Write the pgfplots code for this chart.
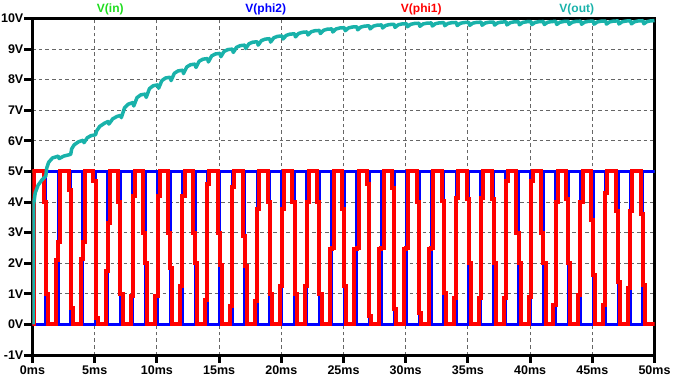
\documentclass[border=0pt]{standalone}
\usepackage{fontspec}
\setmainfont{Liberation Sans}
\usepackage{pgfplots}
\pgfplotsset{compat=1.18}
\usetikzlibrary{calc}
\definecolor{vin}{RGB}{30,220,30}
\definecolor{vphitwo}{RGB}{0,0,255}
\definecolor{vphione}{RGB}{255,0,0}
\definecolor{vout}{RGB}{25,178,170}
\begin{document}
\begin{tikzpicture}
\begin{axis}[
  name=ax,
  scale only axis, width=622pt, height=336.5pt,
  xmin=0, xmax=50, ymin=-1, ymax=10,
  xtick={0,5,10,15,20,25,30,35,40,45,50},
  xticklabels={0ms,5ms,10ms,15ms,20ms,25ms,30ms,35ms,40ms,45ms,50ms},
  ytick={-1,0,1,2,3,4,5,6,7,8,9,10},
  yticklabels={-1V,0V,1V,2V,3V,4V,5V,6V,7V,8V,9V,10V},
  axis line style={line width=3pt, black},
  tick style={line width=3pt, black},
  major tick length=8pt,
  tick align=outside,
  tick pos=left,
  grid=major,
  major grid style={line width=1pt, dash pattern=on 3.5pt off 3pt, color=black!60},
  tick label style={font=\bfseries\fontsize{12.5}{14}\selectfont},
  yticklabel style={inner sep=1pt},
  xticklabel style={inner sep=3pt},
]
% V(in)
\addplot[vin, line width=3pt] coordinates {(0,5) (50,5)};
% V(phi2)
\addplot[vphitwo, line width=3pt, line join=miter] coordinates {
(0,0) (1.07,0) (1.07,5) (2.05,5) (2.05,0) (3.07,0) (3.07,5) (4.05,5) (4.05,0)
(5.07,0) (5.07,5) (6.05,5) (6.05,0) (7.07,0) (7.07,5) (8.05,5) (8.05,0)
(9.07,0) (9.07,5) (10.05,5) (10.05,0) (11.07,0) (11.07,5) (12.05,5) (12.05,0)
(13.07,0) (13.07,5) (14.05,5) (14.05,0) (15.07,0) (15.07,5) (16.05,5) (16.05,0)
(17.07,0) (17.07,5) (18.05,5) (18.05,0) (19.07,0) (19.07,5) (20.05,5) (20.05,0)
(21.07,0) (21.07,5) (22.05,5) (22.05,0) (23.07,0) (23.07,5) (24.05,5) (24.05,0)
(25.07,0) (25.07,5) (26.05,5) (26.05,0) (27.07,0) (27.07,5) (28.05,5) (28.05,0)
(29.07,0) (29.07,5) (30.05,5) (30.05,0) (31.07,0) (31.07,5) (32.05,5) (32.05,0)
(33.07,0) (33.07,5) (34.05,5) (34.05,0) (35.07,0) (35.07,5) (36.05,5) (36.05,0)
(37.07,0) (37.07,5) (38.05,5) (38.05,0) (39.07,0) (39.07,5) (40.05,5) (40.05,0)
(41.07,0) (41.07,5) (42.05,5) (42.05,0) (43.07,0) (43.07,5) (44.05,5) (44.05,0)
(45.07,0) (45.07,5) (46.05,5) (46.05,0) (47.07,0) (47.07,5) (48.05,5) (48.05,0)
(49.07,0) (49.07,5) (50,5)};
% V(phi1)
\addplot[vphione, line width=4pt, line join=miter] coordinates {
(0,0) (0.12,0) (0.12,5)
(0.90,5) (0.90,4.0) (1.07,4.0) (1.07,1.0) (1.24,1.0) (1.24,0)
(1.88,0) (1.88,2.1) (2.05,2.1) (2.05,2.7) (2.22,2.7) (2.22,5)
(2.90,5) (2.90,4.4) (3.07,4.4) (3.07,0.55) (3.24,0.55) (3.24,0)
(3.88,0) (3.88,2.15) (4.05,2.15) (4.05,2.7) (4.22,2.7) (4.22,5)
(4.90,5) (4.90,4.7) (5.07,4.7) (5.07,0.2) (5.24,0.2) (5.24,0)
(5.88,0) (5.88,1.75) (6.05,1.75) (6.05,3.3) (6.22,3.3) (6.22,5)
(6.90,5) (6.90,4.0) (7.07,4.0) (7.07,1.0) (7.24,1.0) (7.24,0)
(7.88,0) (7.88,0.93) (8.05,0.93) (8.05,4.2) (8.22,4.2) (8.22,5)
(8.90,5) (8.90,3.0) (9.07,3.0) (9.07,2.0) (9.24,2.0) (9.24,0)
(9.88,0) (9.88,0.93) (10.05,0.93) (10.05,4.2) (10.22,4.2) (10.22,5)
(10.90,5) (10.90,3.0) (11.07,3.0) (11.07,1.85) (11.24,1.85) (11.24,0)
(11.88,0) (11.88,1.25) (12.05,1.25) (12.05,4.2) (12.22,4.2) (12.22,5)
(12.90,5) (12.90,3.0) (13.07,3.0) (13.07,2.0) (13.24,2.0) (13.24,0)
(13.88,0) (13.88,0.8) (14.05,0.8) (14.05,4.6) (14.22,4.6) (14.22,5)
(14.90,5) (14.90,3.0) (15.07,3.0) (15.07,1.95) (15.24,1.95) (15.24,0)
(15.88,0) (15.88,0.6) (16.05,0.6) (16.05,4.5) (16.22,4.5) (16.22,5)
(16.90,5) (16.90,2.9) (17.07,2.9) (17.07,1.9) (17.24,1.9) (17.24,0)
(17.88,0) (17.88,0.76) (18.05,0.76) (18.05,3.76) (18.22,3.76) (18.22,5)
(18.90,5) (18.90,4.0) (19.07,4.0) (19.07,1.0) (19.24,1.0) (19.24,0)
(19.88,0) (19.88,1.25) (20.05,1.25) (20.05,3.76) (20.22,3.76) (20.22,5)
(20.90,5) (20.90,4.0) (21.07,4.0) (21.07,1.0) (21.24,1.0) (21.24,0)
(21.88,0) (21.88,1.25) (22.05,1.25) (22.05,4.0) (22.22,4.0) (22.22,5)
(22.90,5) (22.90,4.0) (23.07,4.0) (23.07,1.0) (23.24,1.0) (23.24,0)
(23.88,0) (23.88,2.45) (24.05,2.45) (24.05,2.5) (24.22,2.5) (24.22,5)
(24.90,5) (24.90,3.76) (25.07,3.76) (25.07,1.25) (25.24,1.25) (25.24,0)
(25.88,0) (25.88,2.45) (26.05,2.45) (26.05,2.5) (26.22,2.5) (26.22,5)
(26.90,5) (26.90,4.58) (27.07,4.58) (27.07,0.27) (27.24,0.27) (27.24,0)
(27.88,0) (27.88,2.45) (28.05,2.45) (28.05,2.5) (28.22,2.5) (28.22,5)
(28.90,5) (28.90,4.47) (29.07,4.47) (29.07,0.49) (29.24,0.49) (29.24,0)
(29.88,0) (29.88,2.45) (30.05,2.45) (30.05,2.5) (30.22,2.5) (30.22,5)
(30.90,5) (30.90,4.0) (31.07,4.0) (31.07,0.38) (31.24,0.38) (31.24,0)
(31.88,0) (31.88,2.45) (32.05,2.45) (32.05,2.5) (32.22,2.5) (32.22,5)
(32.90,5) (32.90,4.03) (33.07,4.03) (33.07,1.03) (33.24,1.03) (33.24,0)
(33.88,0) (33.88,0.87) (34.05,0.87) (34.05,4.14) (34.22,4.14) (34.22,5)
(34.90,5) (34.90,4.1) (35.07,4.1) (35.07,2.0) (35.24,2.0) (35.24,0)
(35.88,0) (35.88,0.87) (36.05,0.87) (36.05,4.14) (36.22,4.14) (36.22,5)
(36.90,5) (36.90,4.1) (37.07,4.1) (37.07,2.0) (37.24,2.0) (37.24,0)
(37.88,0) (37.88,0.87) (38.05,0.87) (38.05,4.7) (38.22,4.7) (38.22,5)
(38.90,5) (38.90,3.0) (39.07,3.0) (39.07,2.0) (39.24,2.0) (39.24,0)
(39.88,0) (39.88,0.9) (40.05,0.9) (40.05,4.7) (40.22,4.7) (40.22,5)
(40.90,5) (40.90,3.0) (41.07,3.0) (41.07,2.0) (41.24,2.0) (41.24,0)
(41.88,0) (41.88,0.65) (42.05,0.65) (42.05,4.0) (42.22,4.0) (42.22,5)
(42.90,5) (42.90,4.1) (43.07,4.1) (43.07,2.0) (43.24,2.0) (43.24,0)
(43.88,0) (43.88,0.95) (44.05,0.95) (44.05,4.0) (44.22,4.0) (44.22,5)
(44.90,5) (44.90,3.4) (45.07,3.4) (45.07,1.6) (45.24,1.6) (45.24,0)
(45.88,0) (45.88,0.65) (46.05,0.65) (46.05,4.3) (46.22,4.3) (46.22,5)
(46.90,5) (46.90,3.7) (47.07,3.7) (47.07,1.4) (47.24,1.4) (47.24,0)
(47.88,0) (47.88,1.2) (48.05,1.2) (48.05,3.7) (48.22,3.7) (48.22,5)
(48.90,5) (48.90,3.6) (49.07,3.6) (49.07,1.3) (49.24,1.3) (49.24,0)
(50,0)};
% V(out)
\addplot[vout, line width=3.5pt, line join=round] coordinates {
(0.05,0) (0.1,3.95) (0.22,4.3) (0.45,4.55) (0.75,4.72) (1.07,4.85)
(1.15,5.12) (1.3,5.3) (1.6,5.44) (2.07,5.5) (2.14,5.42) (2.5,5.5) (3.07,5.56)
(3.15,5.74) (3.35,5.87) (3.7,5.97) (4.07,6.02) (4.14,5.94) (4.4,6.1) (4.7,6.17) (5.07,6.2)
(5.15,6.32) (5.4,6.47) (5.8,6.58) (6.07,6.63) (6.14,6.55) (6.45,6.72) (6.8,6.8) (7.07,6.83)
(7.14,6.76) (7.4,7.08) (7.7,7.2) (8.07,7.25)
(8.14,7.14) (8.4,7.413) (8.7,7.503) (9.07,7.53)
(9.14,7.42) (9.4,7.707) (9.7,7.801) (10.07,7.83)
(10.14,7.72) (10.4,7.972) (10.7,8.055) (11.07,8.08)
(11.14,7.97) (11.4,8.208) (11.7,8.286) (12.07,8.31)
(12.14,8.20) (12.4,8.417) (12.7,8.488) (13.07,8.51)
(13.14,8.40) (13.4,8.603) (13.7,8.670) (14.07,8.69)
(14.14,8.58) (14.4,8.776) (14.7,8.840) (15.07,8.86)
(15.14,8.75) (15.4,8.925) (15.7,8.983) (16.07,9.00)
(16.14,8.89) (16.4,9.058) (16.7,9.113) (17.07,9.13)
(17.14,9.02) (17.4,9.174) (17.7,9.225) (18.07,9.24)
(18.14,9.13) (18.4,9.277) (18.7,9.325) (19.07,9.34)
(19.14,9.23) (19.4,9.37) (19.7,9.416) (20.07,9.43)
(20.14,9.33) (20.4,9.449) (20.7,9.488) (21.07,9.50)
(21.14,9.40) (21.4,9.512) (21.7,9.549) (22.07,9.56)
(22.14,9.46) (22.4,9.565) (22.7,9.60) (23.07,9.61)
(23.14,9.51) (23.4,9.615) (23.7,9.65) (24.07,9.66)
(24.14,9.56) (24.4,9.658) (24.7,9.69) (25.07,9.70)
(25.14,9.60) (25.4,9.691) (25.7,9.721) (26.07,9.73)
(26.14,9.63) (26.4,9.721) (26.7,9.751) (27.07,9.76)
(27.14,9.66) (27.4,9.751) (27.7,9.781) (28.07,9.79)
(28.14,9.69) (28.4,9.774) (28.7,9.802) (29.07,9.81)
(29.14,9.71) (29.4,9.794) (29.7,9.822) (30.07,9.83)
(30.14,9.73) (30.4,9.81) (30.7,9.837) (31.07,9.845)
(31.14,9.745) (31.4,9.822) (31.7,9.847) (32.07,9.855)
(32.14,9.755) (32.4,9.832) (32.7,9.857) (33.07,9.865)
(33.14,9.765) (33.4,9.839) (33.7,9.863) (34.07,9.87)
(34.14,9.77) (34.4,9.844) (34.7,9.868) (35.07,9.875)
(35.14,9.775) (35.4,9.849) (35.7,9.873) (36.07,9.88)
(36.14,9.78) (36.4,9.854) (36.7,9.878) (37.07,9.885)
(37.14,9.785) (37.4,9.859) (37.7,9.883) (38.07,9.89)
(38.14,9.79) (38.4,9.864) (38.7,9.888) (39.07,9.895)
(39.14,9.795) (39.4,9.869) (39.7,9.893) (40.07,9.90)
(40.14,9.80) (40.4,9.872) (40.7,9.896) (41.07,9.903)
(41.14,9.803) (41.4,9.875) (41.7,9.899) (42.07,9.906)
(42.14,9.806) (42.4,9.878) (42.7,9.902) (43.07,9.909)
(43.14,9.809) (43.4,9.881) (43.7,9.905) (44.07,9.912)
(44.14,9.812) (44.4,9.884) (44.7,9.908) (45.07,9.915)
(45.14,9.815) (45.4,9.887) (45.7,9.911) (46.07,9.918)
(46.14,9.818) (46.4,9.89) (46.7,9.914) (47.07,9.921)
(47.14,9.821) (47.4,9.893) (47.7,9.917) (48.07,9.924)
(48.14,9.824) (48.4,9.896) (48.7,9.92) (49.07,9.927)
(49.14,9.827) (49.4,9.899) (49.7,9.923) (50,9.93)};
\end{axis}
\begin{scope}[every node/.style={font=\bfseries\fontsize{12}{14}\selectfont, inner sep=0pt, anchor=center}]
\node[text=vin] at ($(ax.north west)!0.125!(ax.north east)+(0,9.5pt)$) {V(in)};
\node[text=vphitwo] at ($(ax.north west)!0.375!(ax.north east)+(0,9.5pt)$) {V(phi2)};
\node[text=vphione] at ($(ax.north west)!0.625!(ax.north east)+(0,9.5pt)$) {V(phi1)};
\node[text=vout] at ($(ax.north west)!0.875!(ax.north east)+(0,9.5pt)$) {V(out)};
\end{scope}
\pgfresetboundingbox
\path[use as bounding box] ($(ax.south west)+(-32.5pt,-27pt)$) rectangle ($(ax.north east)+(18.5pt,18.5pt)$);
\end{tikzpicture}
\end{document}
